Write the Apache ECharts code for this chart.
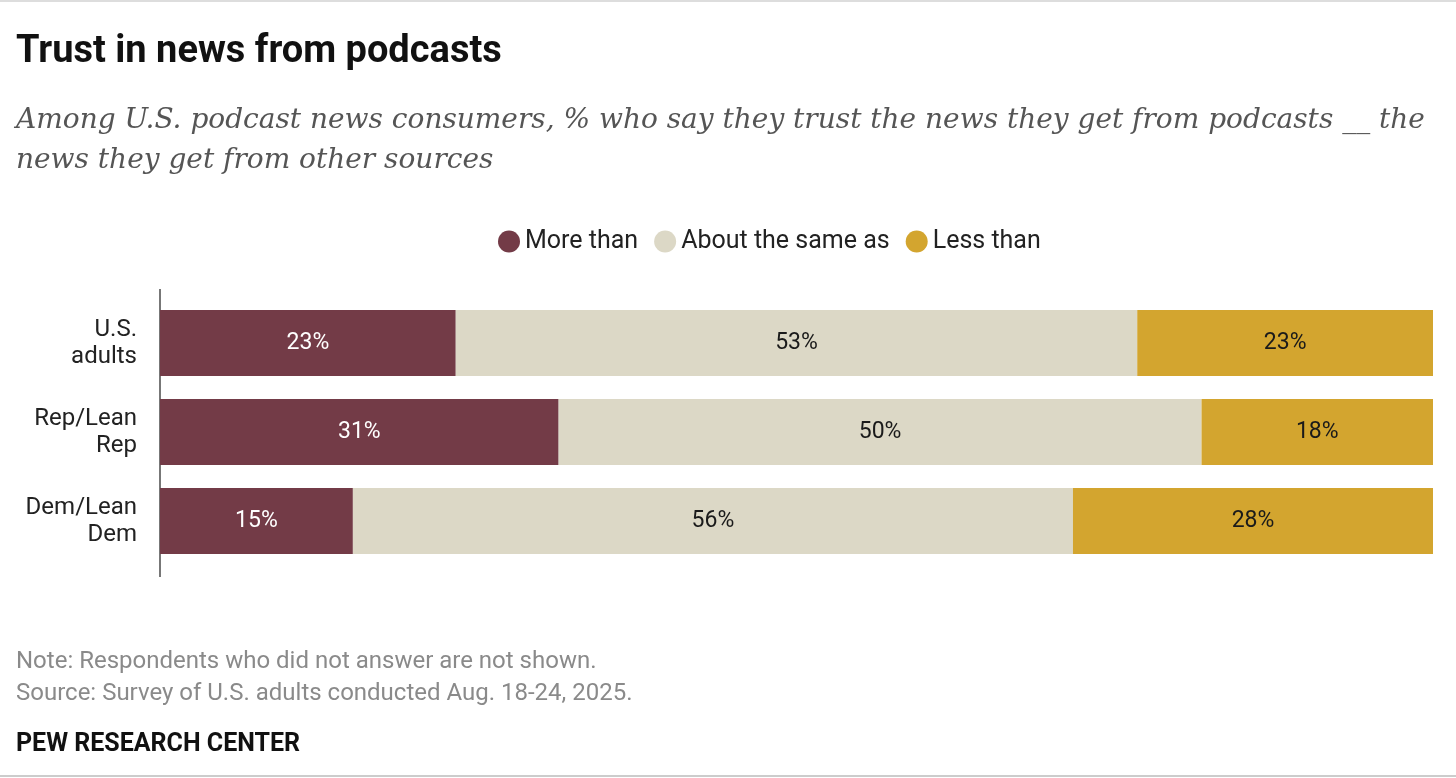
<!DOCTYPE html>
<html><head><meta charset="utf-8">
<script src="https://cdn.jsdelivr.net/npm/echarts@6/dist/echarts.min.js"></script>
<style>html,body{margin:0;padding:0;background:#fff}#c{width:1456px;height:778px}</style>
</head><body><div id="c"></div>
<script>
const categories = ['U.S.\nadults', 'Rep/Lean\nRep', 'Dem/Lean\nDem'];
const moreThan = [23, 31, 15];
const aboutSame = [53, 50, 56];
const lessThan = [23, 18, 28];
const seriesNames = ['More than', 'About the same as', 'Less than'];
const colors = ['#733b47', '#dcd8c6', '#d3a52f'];
const labelColors = ['#ffffff', '#1a1a1a', '#1a1a1a'];
const values = [moreThan, aboutSame, lessThan];

const chart = echarts.init(document.getElementById('c'));
chart.setOption({
  animation: false,
  textStyle: { fontFamily: 'Roboto, "Noto Sans", sans-serif' },
  title: [
    { text: 'Trust in news from podcasts', left: 11, top: 28, textStyle: { fontSize: 38, fontWeight: 'bold', color: '#111', fontFamily: 'Roboto, sans-serif' } },
    { text: 'Among U.S. podcast news consumers, % who say they trust the news they get from podcasts __ the\nnews they get from other sources', left: 11, top: 96,
      textStyle: { fontSize: 28, fontStyle: 'italic', color: '#555', fontWeight: 'normal', lineHeight: 40, fontFamily: '"DejaVu Serif", serif' } },
    { text: 'Note: Respondents who did not answer are not shown.\nSource: Survey of U.S. adults conducted Aug. 18-24, 2025.', left: 11, top: 641,
      textStyle: { fontSize: 24, color: '#8a8a8a', fontWeight: 'normal', lineHeight: 32 } },
    { text: 'PEW RESEARCH CENTER', left: 11, top: 727, textStyle: { fontSize: 25, fontWeight: 'bold', color: '#111' } }
  ],
  legend: {
    top: 224, left: 493, icon: 'circle', itemWidth: 22, itemHeight: 22, itemGap: 16,
    textStyle: { fontSize: 25, color: '#222' }, data: seriesNames
  },
  grid: { left: 160, right: 23, top: 298.5, bottom: 212.5 },
  xAxis: { type: 'value', min: 0, max: 99, show: false },
  yAxis: {
    type: 'category', data: categories, inverse: true,
    axisLine: { show: false }, axisTick: { show: false },
    axisLabel: { fontSize: 24, color: '#222', align: 'right', margin: 23, lineHeight: 27 }
  },
  series: values.map((v, i) => ({
    name: seriesNames[i], type: 'bar', stack: 'total', data: v, barCategoryGap: '26%',
    itemStyle: { color: colors[i] },
    label: { show: true, position: 'inside', formatter: '{c}%', fontSize: 23, color: labelColors[i] }
  })),
  graphic: [
    { type: 'line', shape: { x1: 160, y1: 289, x2: 160, y2: 577 }, style: { stroke: '#777', lineWidth: 2 } },
    { type: 'line', shape: { x1: 0, y1: 1, x2: 1456, y2: 1 }, style: { stroke: '#bbb', lineWidth: 1 } },
    { type: 'line', shape: { x1: 0, y1: 776, x2: 1456, y2: 776 }, style: { stroke: '#999', lineWidth: 1 } }
  ]
});
</script></body></html>
